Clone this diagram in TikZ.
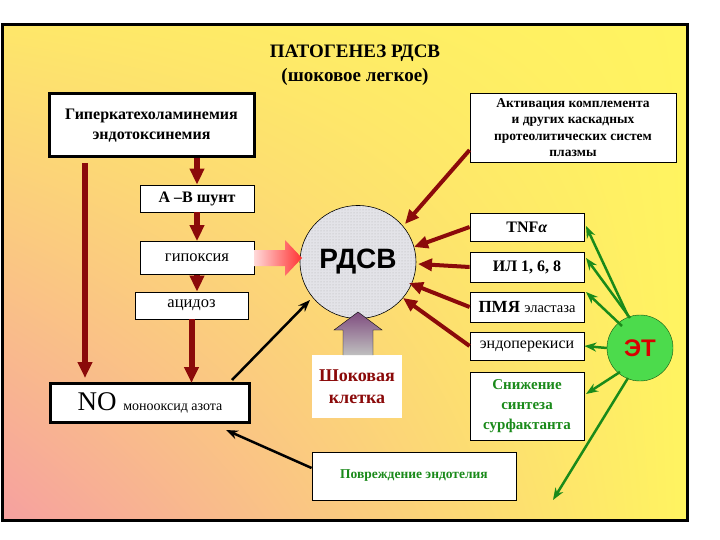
\documentclass[tikz,border=0pt]{standalone}
\usepackage{fontspec}
\setmainfont{Liberation Serif}
\newfontfamily\sansf{Liberation Sans}
\usetikzlibrary{arrows.meta,shapes.geometric,patterns,shadings}
\definecolor{dred}{HTML}{8B0A0A}
\definecolor{dgreen}{HTML}{1A8A1A}
\definecolor{yel}{HTML}{FFF460}
\definecolor{pnk}{HTML}{F6A0A0}
\definecolor{org}{HTML}{FBC880}
\tikzset{
 x=1pt,y=-1pt,
 bx/.style={draw=black,fill=white,line width=0.8pt,align=center,font=\bfseries\fontsize{16}{18}\selectfont,inner sep=1pt},
 tbx/.style={bx,line width=3pt},
 redar/.style={draw=dred,line width=6pt,-{Triangle[length=16pt,width=14pt]}},
 thinred/.style={draw=dred,line width=4pt,-{Triangle[length=14pt,width=12pt]}},
 grar/.style={draw=dgreen,line width=2.5pt,-{Stealth[length=12pt,width=9pt]}},
 bkar/.style={draw=black,line width=2.5pt,-{Stealth[length=12pt,width=9pt]}},
}
\begin{document}
\begin{tikzpicture}
\useasboundingbox (0,0) rectangle (720,540);
\fill[white] (0,0) rectangle (720,540);
\shade[lower left=pnk,upper left=yel!70!org,upper right=yel,lower right=yel] (2,25) rectangle (687,520);
\draw[line width=3pt] (2,25) rectangle (687,520);
\node[font=\bfseries\fontsize{19}{24}\selectfont,align=center] (title) at (355,65) {ПАТОГЕНЕЗ РДСВ\\(шоковое легкое)};
\node[tbx,minimum width=205,minimum height=63,font=\bfseries\fontsize{16}{20}\selectfont] (hyp) at (151.5,125.5) {Гиперкатехоламинемия\\эндотоксинемия};
\node[bx,minimum width=206,minimum height=69,font=\bfseries\fontsize{13.5}{16.5}\selectfont] (act) at (573,127.5) {Активация комплемента\\и других каскадных\\протеолитических систем\\плазмы};
\node[bx,minimum width=114,minimum height=27] (ab) at (197,198.5) {А –В шунт};
\node[bx,minimum width=114,minimum height=33,font=\fontsize{16.5}{18}\selectfont] (hyx) at (197,258) {гипоксия};
\node[bx,minimum width=113,minimum height=27,font=\fontsize{16.5}{18}\selectfont] (aci) at (191.5,305.5) {ацидоз};
\node[tbx,minimum width=199,minimum height=39,anchor=west,font=\fontsize{14}{16}\selectfont] (no) at (49,402.5) {\fontsize{27}{28}\selectfont NO \fontsize{14}{16}\selectfont монооксид азота};
\node[ellipse,draw=black,line width=0.6pt,fill=blue!8!gray!20,minimum width=116,minimum height=113] (rd) at (358,262) {};
\fill[pattern=dots,pattern color=gray!60] (rd.center) ellipse (57.5 and 56);
\node[font=\sansf\bfseries\fontsize{28}{30}\selectfont] at (rd.center) {РДСВ};
\node[fill=white,minimum width=90,minimum height=63,align=center,text=dred,font=\bfseries\fontsize{18}{22}\selectfont] (sh) at (357,386.5) {Шоковая\\клетка};
\node[bx,minimum width=114,minimum height=28] (tnf) at (527,227) {TNF\textit{α}};
\node[bx,minimum width=114,minimum height=30] (il) at (527,267) {ИЛ 1, 6, 8};
\node[bx,minimum width=114,minimum height=30,font=\bfseries\fontsize{17}{18}\selectfont] (pm) at (527,307) {ПМЯ \fontsize{14.5}{16}\mdseries\selectfont эластаза};
\node[bx,minimum width=114,minimum height=28,font=\fontsize{16}{18}\selectfont] (en) at (527,346) {эндоперекиси};
\node[bx,minimum width=114,minimum height=68,text=dgreen,font=\bfseries\fontsize{15}{20}\selectfont] (sur) at (527,406) {Снижение\\синтеза\\сурфактанта};
\node[bx,minimum width=204,minimum height=48,text=dgreen,font=\bfseries\fontsize{13.5}{16}\selectfont] (pov) at (414,476) {Повреждение эндотелия};
\node[circle,draw=dgreen!60!black,fill=green!80!black!70!white,minimum size=66,text=red!85!black,font=\sansf\bfseries\fontsize{24}{26}\selectfont] (et) at (640,348) {ЭТ};
\coordinate (free) at (553,500);
% fat arrow hypoxia -> RDSV
\shade[left color=pink!60,right color=red!80] (254,250) -- (285,250) -- (285,240) -- (302,258) -- (285,276) -- (285,266) -- (254,266) -- cycle;
% up fat arrow
\shade[bottom color=gray!50,top color=violet!40!gray] (343,355) -- (343,330) -- (334,330) -- (358,312) -- (382,330) -- (373,330) -- (373,355) -- cycle;
\draw[black,line width=0.4pt] (343,355) -- (343,330) -- (334,330) -- (358,312) -- (382,330) -- (373,330) -- (373,355);
% red arrows
\draw[redar] (hyp.south -| ab) -- (ab.north);
\draw[redar] (ab) -- (ab |- hyx.north);
\draw[redar] (hyx.south) -- (hyx.south |- aci.north);
\draw[redar] (aci.south) -- (191.5,383);
\draw[redar] (85,163) -- (85,378);
\draw[thinred] (act.west |- 0,150) -- (405,224);
\draw[thinred] (tnf.west) -- (414,247);
\draw[thinred] (il.west) -- (418,264);
\draw[thinred] (pm.west) -- (409,283);
\draw[thinred] (en.west) -- (403,298);
% black
\draw[bkar] (232,380) -- (310,300);
\draw[bkar] (pov.west |- 0,468) -- (226,430);
% green
\draw[grar] (628,316) -- (586,226);
\draw[grar] (630,318) -- (586,258);
\draw[grar] (622,326) -- (586,292);
\draw[grar] (et.west) -- (en.east);
\draw[grar] (620,372) -- (586,394);
\draw[grar] (628,378) -- (free);
\end{tikzpicture}
\end{document}
